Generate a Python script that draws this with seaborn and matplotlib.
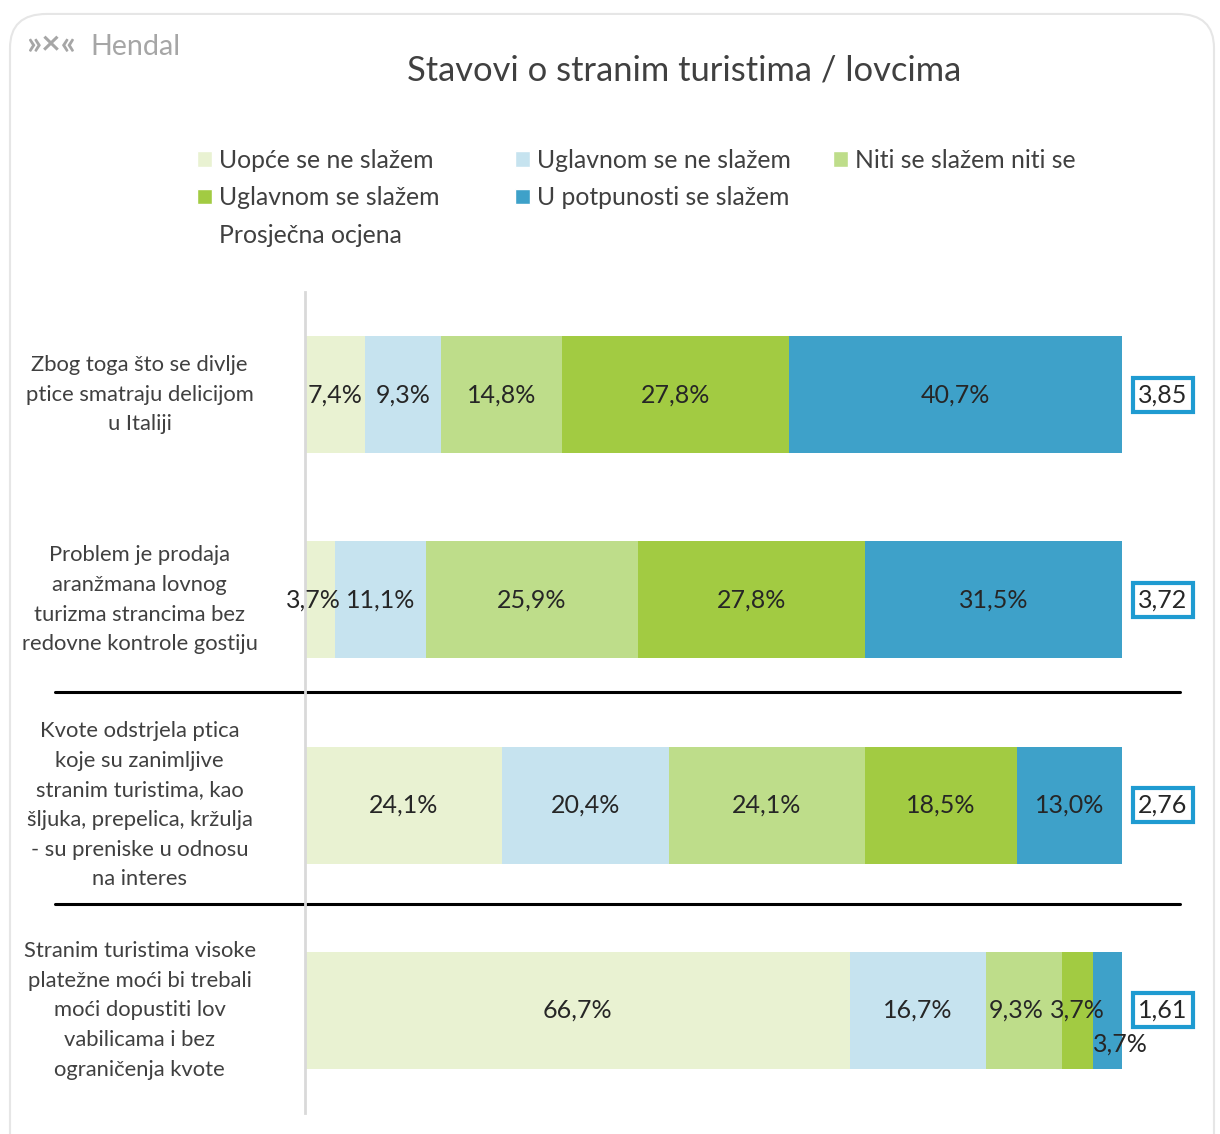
import matplotlib
matplotlib.use("Agg")
import matplotlib.pyplot as plt
import matplotlib.transforms as mtransforms
from matplotlib.patches import Patch, FancyBboxPatch
import pandas as pd
import seaborn as sns

questions = [
    "Zbog toga što se divlje\nptice smatraju delicijom\nu Italiji",
    "Problem je prodaja\naranžmana lovnog\nturizma strancima bez\nredovne kontrole gostiju",
    "Kvote odstrjela ptica\nkoje su zanimljive\nstranim turistima, kao\nšljuka, prepelica, kržulja\n- su preniske u odnosu\nna interes",
    "Stranim turistima visoke\nplatežne moći bi trebali\nmoći dopustiti lov\nvabilicama i bez\nograničenja kvote",
]
answers = ["Uopće se ne slažem", "Uglavnom se ne slažem", "Niti se slažem niti se",
           "Uglavnom se slažem", "U potpunosti se slažem"]
uopce = [7.4, 3.7, 24.1, 66.7]
uglavnom_ne = [9.3, 11.1, 20.4, 16.7]
niti = [14.8, 25.9, 24.1, 9.3]
uglavnom_da = [27.8, 27.8, 18.5, 3.7]
potpuno = [40.7, 31.5, 13.0, 3.7]
prosjek = ["3,85", "3,72", "2,76", "1,61"]
colors = ["#e9f2d2", "#c6e3ef", "#bedd8a", "#a2cb42", "#3ea1c9"]

df = pd.DataFrame({answers[0]: uopce, answers[1]: uglavnom_ne, answers[2]: niti,
                   answers[3]: uglavnom_da, answers[4]: potpuno}, index=questions)
cum = df.cumsum(axis=1)

sns.set_theme(style="white")
plt.rcParams['font.family'] = ['Lato', 'DejaVu Sans']

fig = plt.figure(figsize=(12.2, 11.34), dpi=100)
ax = fig.add_axes([305 / 1220, 1 - 1113 / 1134, 817 / 1220, 821 / 1134])

# stacked bars: draw cumulative totals from the widest down
for k in reversed(range(len(answers))):
    sns.barplot(x=cum.iloc[:, k].values, y=questions, orient='h', color=colors[k],
                saturation=1, width=0.57, linewidth=0, errorbar=None, ax=ax)

# labels that Excel nudged aside
nudge = {(3, 4): (9, -24), (1, 0): (-5, 0), (3, 2): (-6, 0)}
for k in range(len(answers)):
    for i in range(len(questions)):
        v = df.iloc[i, k]
        xc = cum.iloc[i, k] - v / 2
        ax.annotate(f"{v:.1f}%".replace('.', ','), (xc, i),
                    xytext=nudge.get((i, k), (0, 0)),
                    textcoords='offset points', ha='center', va='center',
                    fontsize=18, color='#262626', annotation_clip=False)

for i, s in enumerate(prosjek):
    ax.text(105, i, s, ha='center', va='center', fontsize=18, color='#262626',
            clip_on=False,
            bbox=dict(boxstyle='square,pad=0.22', fc='white', ec='#1f9bd1', lw=3))

ax.set_xlim(0, 100)
ax.set_ylim(3.5, -0.5)
ax.set_xticks([])
ax.set_xlabel('')
ax.set_ylabel('')
ax.set_yticks(range(len(questions)))
ax.set_yticklabels(questions)
ax.tick_params(axis='y', length=0, pad=119, labelsize=15.8, labelcolor='#404040')
for lbl in ax.get_yticklabels():
    lbl.set_ha('center')
    lbl.set_va('center')
    lbl.set_multialignment('center')
    lbl.set_linespacing(1.6)
sns.despine(ax=ax, left=False, bottom=True)
ax.spines['left'].set_color('#d9d9d9')
ax.spines['left'].set_linewidth(2)

trans = mtransforms.blended_transform_factory(fig.transFigure, ax.transData)
for yy in [1.45, 2.48]:
    ax.plot([55 / 1220, 1180 / 1220], [yy, yy], transform=trans, color='black',
            lw=2.2, clip_on=False)

# legend in three columns
leg_kw = dict(loc='upper left', frameon=False, fontsize=17.8, handlelength=0.6,
              handleheight=0.6, handletextpad=0.3, labelspacing=0.58,
              borderpad=0, borderaxespad=0, labelcolor='#404040')
blank = Patch(facecolor='none', edgecolor='none')
ytop = 1 - 149 / 1134
fig.legend(handles=[Patch(fc=colors[0]), Patch(fc=colors[3]), blank],
           labels=[answers[0], answers[3], "Prosječna ocjena"],
           bbox_to_anchor=(197 / 1220, ytop), **leg_kw)
fig.legend(handles=[Patch(fc=colors[1]), Patch(fc=colors[4])],
           labels=[answers[1], answers[4]],
           bbox_to_anchor=(515 / 1220, ytop), **leg_kw)
fig.legend(handles=[Patch(fc=colors[2])], labels=[answers[2]],
           bbox_to_anchor=(833 / 1220, ytop), **leg_kw)

fig.text(684 / 1220, 1 - 70 / 1134, "Stavovi o stranim turistima / lovcima",
         ha='center', va='center', fontsize=24.8, color='#404040')
fig.text(26 / 1220, 1 - 45 / 1134, "»×«", ha='left', va='center', fontsize=24,
         fontweight='bold', color='#a6a6a6')
fig.text(90 / 1220, 1 - 47 / 1134, "Hendal", ha='left', va='center', fontsize=20.6,
         color='#a6a6a6')

fig.add_artist(FancyBboxPatch((10 / 1220, -0.05), 1204 / 1220, 1.0377,
                              boxstyle='round,pad=0,rounding_size=0.03',
                              transform=fig.transFigure, fc='none', ec='#e6e6e6',
                              lw=1.5))

fig.savefig("out.png", dpi=100)
